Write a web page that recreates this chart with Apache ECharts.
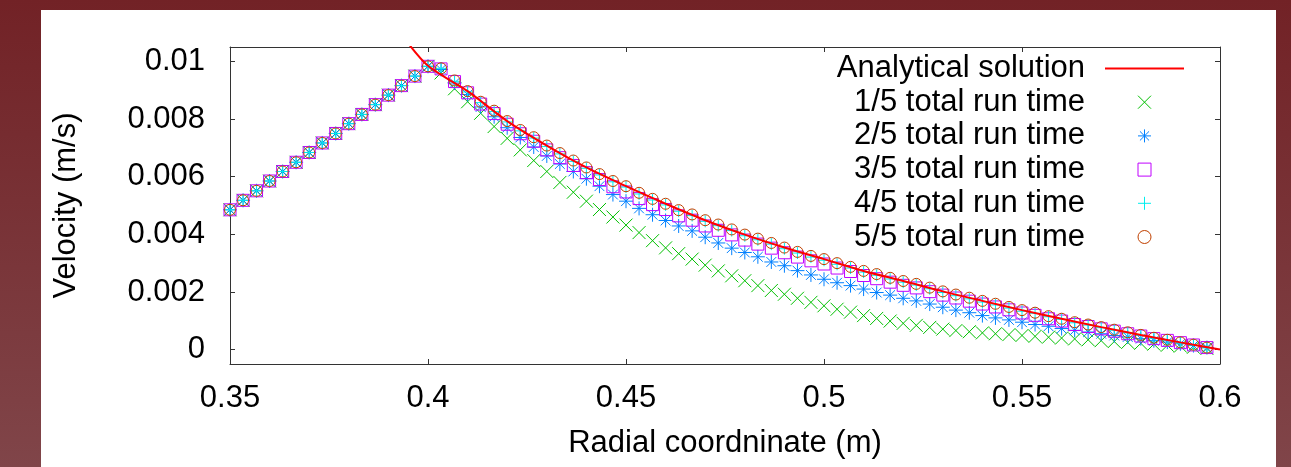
<!DOCTYPE html>
<html><head><meta charset="utf-8">
<script src="https://cdn.jsdelivr.net/npm/echarts@6/dist/echarts.min.js"></script>
<style>
html,body{margin:0;padding:0;width:1291px;height:467px;overflow:hidden;background:linear-gradient(to bottom,#722226,#804549);}
#chart{position:absolute;left:41px;top:10px;width:1235px;height:457px;background:#fff;}
</style></head><body><div id="chart"></div>
<script>
// Radial coordinate of the sample points (m)
const radial = [0.3500,0.3533,0.3567,0.3600,0.3633,0.3667,0.3700,0.3733,0.3767,0.3800,
0.3833,0.3867,0.3900,0.3933,0.3967,0.4000,0.4033,0.4067,0.4100,0.4133,
0.4167,0.4200,0.4233,0.4267,0.4300,0.4333,0.4367,0.4400,0.4433,0.4467,
0.4500,0.4533,0.4567,0.4600,0.4633,0.4667,0.4700,0.4733,0.4767,0.4800,
0.4833,0.4867,0.4900,0.4933,0.4967,0.5000,0.5033,0.5067,0.5100,0.5133,
0.5167,0.5200,0.5233,0.5267,0.5300,0.5333,0.5367,0.5400,0.5433,0.5467,
0.5500,0.5533,0.5567,0.5600,0.5633,0.5667,0.5700,0.5733,0.5767,0.5800,
0.5833,0.5867,0.5900,0.5933,0.5967];

const innerPart = [0.00485,0.00518,0.00551,0.00585,0.00618,0.00650,0.00684,0.00717,0.00750,0.00784,0.00816,0.00850,0.00883,0.00916,0.00949,0.00983];

const velocity1 = innerPart.concat([0.00960,0.00905,0.00860,0.00820,0.00774,0.00733,0.00693,0.00656,0.00618,0.00580,0.00546,0.00515,0.00486,0.00460,0.00432,0.00406,0.00378,0.00353,0.00333,0.00314,0.00293,0.00273,0.00256,0.00239,0.00222,0.00205,0.00192,0.00178,0.00164,0.00152,0.00140,0.00130,0.00118,0.00108,0.00099,0.00091,0.00084,0.00077,0.00071,0.00066,0.00062,0.00058,0.00055,0.00052,0.00049,0.00046,0.00043,0.00040,0.00037,0.00034,0.00031,0.00028,0.00025,0.00022,0.00019,0.00015,0.00012,0.00008,0.00004]);
const velocity2 = innerPart.concat([0.00972,0.00925,0.00885,0.00842,0.00808,0.00770,0.00736,0.00703,0.00672,0.00644,0.00618,0.00593,0.00567,0.00538,0.00515,0.00490,0.00468,0.00448,0.00429,0.00412,0.00390,0.00370,0.00352,0.00337,0.00322,0.00304,0.00291,0.00274,0.00259,0.00244,0.00232,0.00222,0.00210,0.00198,0.00189,0.00178,0.00169,0.00158,0.00147,0.00137,0.00128,0.00118,0.00110,0.00103,0.00095,0.00087,0.00081,0.00073,0.00067,0.00061,0.00055,0.00049,0.00044,0.00038,0.00031,0.00026,0.00020,0.00014,0.00007]);
const velocity3 = innerPart.concat([0.00974,0.00930,0.00891,0.00852,0.00819,0.00782,0.00749,0.00723,0.00693,0.00666,0.00639,0.00614,0.00590,0.00565,0.00547,0.00524,0.00503,0.00486,0.00464,0.00449,0.00429,0.00414,0.00398,0.00380,0.00366,0.00352,0.00336,0.00321,0.00308,0.00297,0.00283,0.00271,0.00257,0.00246,0.00234,0.00223,0.00214,0.00201,0.00189,0.00179,0.00168,0.00158,0.00148,0.00138,0.00127,0.00119,0.00107,0.00099,0.00087,0.00080,0.00072,0.00064,0.00055,0.00047,0.00038,0.00032,0.00024,0.00016,0.00007]);
const velocity4 = innerPart.concat([0.00976,0.00931,0.00894,0.00857,0.00826,0.00790,0.00759,0.00734,0.00705,0.00679,0.00653,0.00629,0.00606,0.00582,0.00564,0.00540,0.00519,0.00502,0.00480,0.00465,0.00445,0.00430,0.00413,0.00395,0.00381,0.00366,0.00350,0.00335,0.00321,0.00310,0.00296,0.00283,0.00269,0.00258,0.00245,0.00234,0.00224,0.00211,0.00198,0.00187,0.00176,0.00165,0.00155,0.00144,0.00133,0.00126,0.00114,0.00105,0.00093,0.00085,0.00076,0.00067,0.00058,0.00049,0.00039,0.00032,0.00023,0.00015,0.00006]);
const velocity5 = innerPart.concat([0.00976,0.00934,0.00897,0.00860,0.00829,0.00793,0.00762,0.00737,0.00708,0.00682,0.00656,0.00632,0.00609,0.00585,0.00567,0.00544,0.00523,0.00506,0.00484,0.00469,0.00449,0.00434,0.00417,0.00399,0.00385,0.00370,0.00354,0.00339,0.00325,0.00314,0.00300,0.00287,0.00273,0.00262,0.00249,0.00238,0.00228,0.00215,0.00202,0.00191,0.00180,0.00169,0.00159,0.00148,0.00137,0.00128,0.00116,0.00107,0.00095,0.00087,0.00078,0.00069,0.00060,0.00051,0.00041,0.00034,0.00025,0.00017,0.00007]);

const analyticalR = [0.394,0.40,0.41,0.42,0.43,0.44,0.45,0.46,0.47,0.48,0.49,0.50,0.51,0.52,0.53,0.54,0.55,0.56,0.57,0.58,0.59,0.60];
const analyticalV = [0.01081,0.00985,0.00897,0.00793,0.00708,0.00632,0.00567,0.00506,0.00449,0.00399,0.00354,0.00314,0.00273,0.00238,0.00202,0.00169,0.00137,0.00107,0.00078,0.00051,0.00025,0.0];

const xTicks = [0.35,0.4,0.45,0.5,0.55,0.6];
const yTicks = [0,0.002,0.004,0.006,0.008,0.01];
const seriesNames = ['Analytical solution','1/5 total run time','2/5 total run time','3/5 total run time','4/5 total run time','5/5 total run time'];

const FONT = '"Liberation Sans", Arial, Helvetica, sans-serif';
const FS = 31;
const AX = '#333';

const symX = 'path://M0,0L10,10M10,0L0,10';
const symStar = 'path://M0,5L10,5M5,0L5,10M1.5,1.5L8.5,8.5M8.5,1.5L1.5,8.5';
const symPlus = 'path://M0,5L10,5M5,0L5,10';
const symSquare = 'path://M0,0L10,0L10,10L0,10Z';
const symLine = 'path://M0,0L79,0L79,2L0,2Z';

const pointDefs = [
  {data: velocity1, color: '#00c000', symbol: symX, size: 13},
  {data: velocity2, color: '#0080ff', symbol: symStar, size: 14},
  {data: velocity3, color: '#c000ff', symbol: symSquare, size: 12},
  {data: velocity4, color: '#00eeee', symbol: symPlus, size: 12},
  {data: velocity5, color: '#c04000', symbol: 'circle', size: 11}
];

const zip = (xs, ys) => xs.map((x, i) => [x, ys[i]]);

const series = [];
pointDefs.forEach((d, i) => {
  series.push({
    name: seriesNames[i + 1],
    type: 'scatter',
    data: zip(radial, d.data),
    symbol: d.symbol,
    symbolSize: d.size,
    itemStyle: {color: 'transparent', borderColor: d.color, borderWidth: 1, opacity: 1},
    emphasis: {disabled: true},
    z: 2 + i
  });
});
series.push({
  name: seriesNames[0],
  type: 'line',
  data: zip(analyticalR, analyticalV),
  symbol: 'none',
  smooth: 0.3,
  color: '#ff0000',
  lineStyle: {color: '#ff0000', width: 2},
  emphasis: {disabled: true},
  clip: true,
  z: 10
});

const legendData = [{name: seriesNames[0], icon: symLine, itemStyle: {color: '#ff0000', borderWidth: 0}}]
  .concat(pointDefs.map((d, i) => ({
    name: seriesNames[i + 1], icon: d.symbol,
    itemStyle: {color: 'transparent', borderColor: d.color, borderWidth: 1}
  })));

const axisLineStyle = {show: true, onZero: false, lineStyle: {color: AX, width: 1}};

const option = {
  backgroundColor: '#ffffff',
  animation: false,
  textStyle: {fontFamily: FONT},
  grid: {left: 189, right: 56, top: 37, bottom: 103, containLabel: false, outerBoundsMode: 'none'},
  legend: {
    orient: 'vertical',
    align: 'right',
    right: 92,
    top: 43,
    padding: 0,
    itemWidth: 79,
    itemHeight: 13,
    itemGap: 2.7,
    selectedMode: false,
    data: legendData,
    textStyle: {fontFamily: FONT, fontSize: FS, color: '#000', lineHeight: 30, padding: [0, 15, 0, 0]}
  },
  xAxis: [
    {
      type: 'value', position: 'bottom', min: 0.35, max: 0.6,
      axisLine: axisLineStyle, splitLine: {show: false},
      name: 'Radial coordninate (m)', nameLocation: 'middle', nameGap: 64,
      nameTextStyle: {fontFamily: FONT, fontSize: FS, color: '#000'},
      axisTick: {show: true, inside: true, length: 5, lineStyle: {color: AX}, customValues: xTicks},
      axisLabel: {show: true, margin: 19, fontFamily: FONT, fontSize: FS, color: '#000', customValues: xTicks,
        formatter: v => String(+(+v).toFixed(2))}
    },
    {
      type: 'value', position: 'top', min: 0.35, max: 0.6,
      axisLine: axisLineStyle, splitLine: {show: false},
      axisTick: {show: true, inside: true, length: 5, lineStyle: {color: AX}, customValues: xTicks},
      axisLabel: {show: false}
    }
  ],
  yAxis: [
    {
      type: 'value', position: 'left', min: -0.0005, max: 0.0105,
      axisLine: axisLineStyle, splitLine: {show: false},
      name: 'Velocity (m/s)', nameLocation: 'middle', nameGap: 148,
      nameTextStyle: {fontFamily: FONT, fontSize: FS, color: '#000'},
      axisTick: {show: true, inside: true, length: 5, lineStyle: {color: AX}, customValues: yTicks},
      axisLabel: {show: true, margin: 25, fontFamily: FONT, fontSize: FS, color: '#000', customValues: yTicks,
        formatter: v => (+v === 0 ? '0' : String(+(+v).toFixed(4)))}
    },
    {
      type: 'value', position: 'right', min: -0.0005, max: 0.0105,
      axisLine: axisLineStyle, splitLine: {show: false},
      axisTick: {show: true, inside: true, length: 5, lineStyle: {color: AX}, customValues: yTicks},
      axisLabel: {show: false}
    }
  ],
  series: series
};

const chart = echarts.init(document.getElementById('chart'), null, {renderer: 'canvas'});
chart.setOption(option);
</script></body></html>
